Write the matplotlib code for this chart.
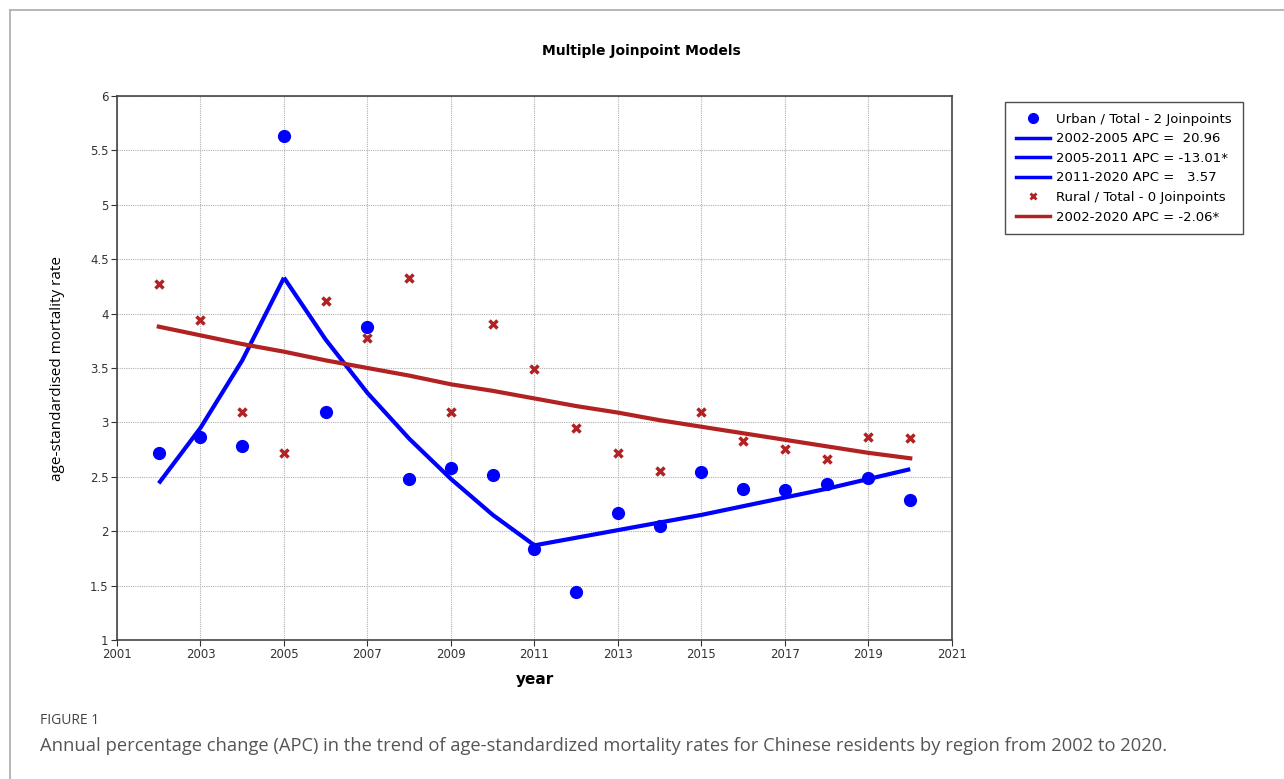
import matplotlib.pyplot as plt
from matplotlib.lines import Line2D

years = list(range(2002, 2021))

urban_obs = [2.72, 2.87, 2.78, 5.63, 3.10, 3.88, 2.48, 2.58, 2.52, 1.84,
             1.44, 2.17, 2.05, 2.54, 2.39, 2.38, 2.43, 2.49, 2.29]
urban_fit = [2.44, 2.95, 3.57, 4.33, 3.76, 3.27, 2.85, 2.48, 2.15, 1.87,
             1.94, 2.01, 2.08, 2.15, 2.23, 2.31, 2.39, 2.48, 2.57]
rural_obs = [4.27, 3.94, 3.10, 2.72, 4.12, 3.78, 4.33, 3.10, 3.90, 3.49,
             2.95, 2.72, 2.55, 3.10, 2.83, 2.76, 2.66, 2.87, 2.86]
rural_fit = [3.88, 3.80, 3.72, 3.65, 3.57, 3.50, 3.43, 3.35, 3.29, 3.22,
             3.15, 3.09, 3.02, 2.96, 2.90, 2.84, 2.78, 2.72, 2.67]

# joinpoint segments (index ranges into years)
segments = [(0, 3), (3, 9), (9, 18)]
seg_labels = ["2002-2005 APC =  20.96", "2005-2011 APC = -13.01*",
              "2011-2020 APC =   3.57"]

blue = "#0000ff"
red = "#b22222"

fig = plt.figure(figsize=(12.84, 7.79), dpi=100)
ax = fig.add_axes([117 / 1284, 1 - 640 / 779, (952 - 117) / 1284, (640 - 96) / 779])

for a, b in segments:
    ax.plot(years[a:b + 1], urban_fit[a:b + 1], color=blue, lw=3, solid_capstyle="butt", zorder=3)
ax.plot(years, rural_fit, color=red, lw=3, zorder=3)
ax.plot(years, urban_obs, "o", color=blue, ms=8.5, zorder=4)
ax.plot(years, rural_obs, "x", color=red, ms=6, mew=2.5, zorder=4)

ax.set_xlim(2001, 2021)
ax.set_ylim(1, 6)
ax.set_xticks(range(2001, 2022, 2))
ax.set_yticks([1, 1.5, 2, 2.5, 3, 3.5, 4, 4.5, 5, 5.5, 6])
ax.set_yticklabels(["1", "1.5", "2", "2.5", "3", "3.5", "4", "4.5", "5", "5.5", "6"])
ax.grid(True, ls=(0, (1, 1)), color="#b0b0b0", lw=0.8)
ax.tick_params(labelsize=8.5, length=4, width=0.8, colors="#333333", pad=2)
for s in ax.spines.values():
    s.set_color("#444444")
    s.set_linewidth(1.2)

ax.set_xlabel("year", fontsize=11, fontweight="bold", labelpad=8)
ax.set_ylabel("age-standardised mortality rate", fontsize=11, family="Open Sans", labelpad=18)
fig.text(641 / 1284, 1 - 51 / 779, "Multiple Joinpoint Models", ha="center", va="center",
         fontsize=10, fontweight="bold")

handles = [Line2D([], [], ls="", marker="o", color=blue, ms=7)]
labels = ["Urban / Total - 2 Joinpoints"]
for lab in seg_labels:
    handles.append(Line2D([], [], color=blue, lw=2.5))
    labels.append(lab)
handles.append(Line2D([], [], ls="", marker="x", color=red, ms=5, mew=2))
labels.append("Rural / Total - 0 Joinpoints")
handles.append(Line2D([], [], color=red, lw=2.5))
labels.append("2002-2020 APC = -2.06*")
leg = fig.legend(handles, labels, loc="upper left", bbox_to_anchor=(1005 / 1284, 1 - 102 / 779),
                 borderaxespad=0, fontsize=9.5, frameon=True, fancybox=False, edgecolor="#222222",
                 handlelength=2.6, labelspacing=0.5, borderpad=0.8, handletextpad=0.5)
leg.get_frame().set_linewidth(1.0)

# page frame lines
fig.add_artist(Line2D([10 / 1284, 1], [1 - 10 / 779, 1 - 10 / 779], color="#aaaaaa", lw=1.2))
fig.add_artist(Line2D([10 / 1284, 10 / 1284], [0, 1 - 10 / 779], color="#aaaaaa", lw=1.2))

fig.text(40 / 1284, 1 - 720 / 779, "FIGURE 1", fontsize=10, color="#444444", family="Open Sans",
         va="center")
fig.text(40 / 1284, 1 - 746 / 779,
         "Annual percentage change (APC) in the trend of age-standardized mortality rates for Chinese residents by region from 2002 to 2020.",
         fontsize=13.2, color="#555555", family="Open Sans", va="center")

fig.savefig("out.png", dpi=100)
